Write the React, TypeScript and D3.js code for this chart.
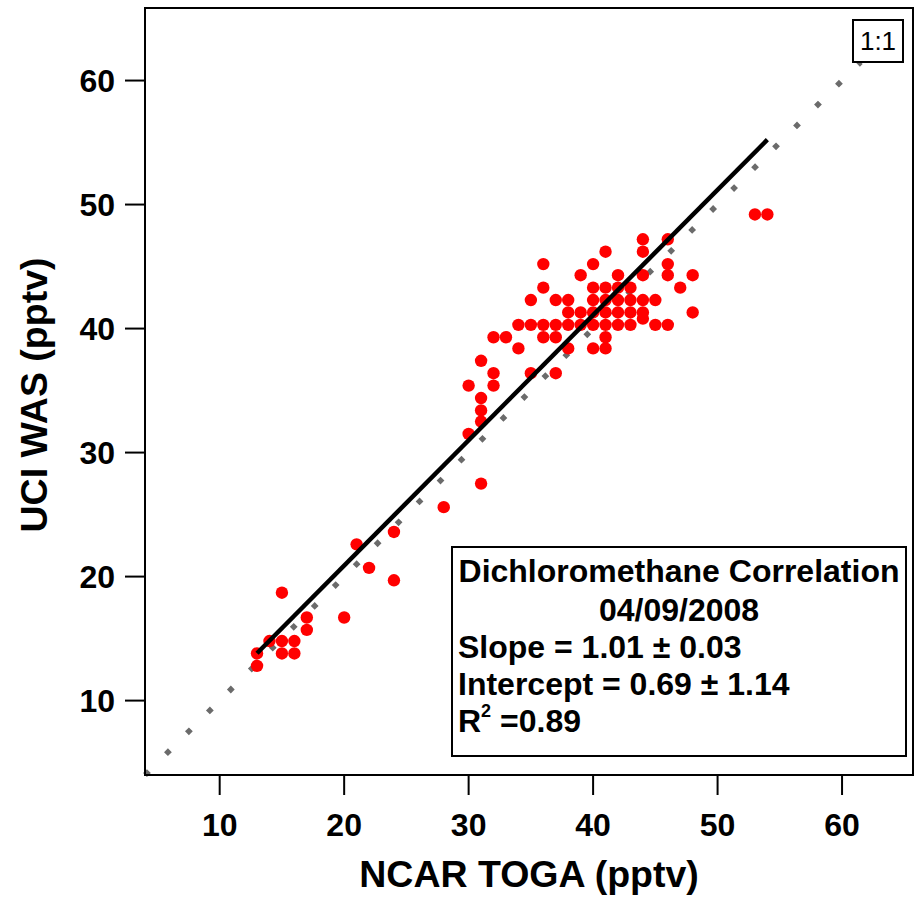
import React from "react";
import * as d3 from "d3";

const ncarToga: number[] = [
  53, 54,
  44, 46,
  41, 44,
  36, 40, 46,
  39, 42, 44, 46, 48,
  36, 40, 41, 42, 43, 47,
  35, 37, 38, 40, 41, 42, 43, 44, 45,
  38, 39, 40, 41, 42, 43, 44, 48,
  44,
  34, 35, 36, 37, 38, 39, 40, 41, 42, 43, 45, 46,
  32, 33, 36, 37, 41,
  34, 38, 40, 41,
  31,
  32, 35, 37,
  30, 32,
  31, 31, 31, 30,
  31, 28,
  24, 21, 22, 24, 15, 20, 17, 17,
  14, 15, 16,
  13, 15, 16,
  13,
];
const uciWas: number[] = [
  49.2, 49.2,
  47.2, 47.2,
  46.2, 46.2,
  45.2, 45.2, 45.2,
  44.3, 44.3, 44.3, 44.3, 44.3,
  43.3, 43.3, 43.3, 43.3, 43.3, 43.3,
  42.3, 42.3, 42.3, 42.3, 42.3, 42.3, 42.3, 42.3, 42.3,
  41.3, 41.3, 41.3, 41.3, 41.3, 41.3, 41.3, 41.3,
  40.8,
  40.3, 40.3, 40.3, 40.3, 40.3, 40.3, 40.3, 40.3, 40.3, 40.3, 40.3, 40.3,
  39.3, 39.3, 39.3, 39.3, 39.3,
  38.4, 38.4, 38.4, 38.4,
  37.4,
  36.4, 36.4, 36.4,
  35.4, 35.4,
  34.4, 33.4, 32.5, 31.5,
  27.5, 25.6,
  23.6, 22.6, 20.7, 19.7, 18.7, 16.7, 16.7, 15.7,
  14.8, 14.8, 14.8,
  13.8, 13.8, 13.8,
  12.8,
];

const xTicks = [10, 20, 30, 40, 50, 60];
const yTicks = [10, 20, 30, 40, 50, 60];
const fitSlope = 1.01;
const fitIntercept = 0.69;
const fitRange = [13, 54];
const oneToOneRange = [4, 61.5];
const legendLines = [
  "Dichloromethane Correlation",
  "04/09/2008",
  "Slope = 1.01 \u00b1 0.03",
  "Intercept = 0.69 \u00b1 1.14",
];
const r2Text = "=0.89";

const W = 915;
const H = 901;
const left = 145, right = 913, top = 8, bottom = 775;
const FONT = "'Liberation Sans', Arial, Helvetica, sans-serif";

export default function App() {
  const x = d3.scaleLinear().domain([4, 65.7]).range([left, right]);
  const y = d3.scaleLinear().domain([4, 65.85]).range([bottom, top]);
  const line = d3.line<number>().x((d) => x(d)).y((d) => y(d));
  const fitLine = d3
    .line<number>()
    .x((d) => x(d))
    .y((d) => y(fitSlope * d + fitIntercept));
  const pts = ncarToga.map((v, i) => [v, uciWas[i]]);

  return (
    <svg
      width={W}
      height={H}
      style={{ position: "absolute", left: 0, top: 0, background: "#fff" }}
      fontFamily={FONT}
    >
      <rect x={0} y={0} width={W} height={H} fill="#fff" />
      {/* 1:1 line */}
      <path
        d={line(oneToOneRange) || ""}
        stroke="#6b6b6b"
        strokeWidth={5.5}
        strokeDasharray="5.5 24.1"
        fill="none"
      />
      {/* points */}
      {pts.map((p, i) => (
        <circle key={i} cx={x(p[0])} cy={y(p[1])} r={6.2} fill="#ff0000" />
      ))}
      {/* fit line */}
      <path d={fitLine(fitRange) || ""} stroke="#000" strokeWidth={4.5} fill="none" />

      {/* frame */}
      <rect
        x={left}
        y={top}
        width={right - left}
        height={bottom - top}
        fill="none"
        stroke="#000"
        strokeWidth={2}
      />
      {/* x ticks */}
      {xTicks.map((t) => (
        <g key={"x" + t}>
          <line x1={x(t)} x2={x(t)} y1={bottom} y2={bottom + 20} stroke="#000" strokeWidth={2} />
          <text
            x={x(t)}
            y={836}
            textAnchor="middle"
            fontSize={32}
            fontWeight="bold"
          >
            {t}
          </text>
        </g>
      ))}
      {/* y ticks */}
      {yTicks.map((t) => (
        <g key={"y" + t}>
          <line x1={left - 20} x2={left} y1={y(t)} y2={y(t)} stroke="#000" strokeWidth={2} />
          <text
            x={115}
            y={y(t) + 11.5}
            textAnchor="end"
            fontSize={32}
            fontWeight="bold"
          >
            {t}
          </text>
        </g>
      ))}
      {/* axis titles */}
      <text x={529} y={887} textAnchor="middle" fontSize={37.5} fontWeight="bold">
        NCAR TOGA (pptv)
      </text>
      <text
        transform={`translate(47, 395) rotate(-90)`}
        textAnchor="middle"
        fontSize={37.5}
        fontWeight="bold"
      >
        UCI WAS (pptv)
      </text>

      {/* 1:1 label */}
      <rect x={853} y={20} width={50} height={42} fill="#fff" stroke="#000" strokeWidth={2} />
      <text x={878} y={50} textAnchor="middle" fontSize={26}>
        1:1
      </text>

      {/* legend */}
      <rect x={452} y={547} width={454} height={209} fill="#fff" stroke="#000" strokeWidth={2} />
      <text x={679} y={582} textAnchor="middle" fontSize={32} fontWeight="bold">
        {legendLines[0]}
      </text>
      <text x={679} y={621} textAnchor="middle" fontSize={32} fontWeight="bold">
        {legendLines[1]}
      </text>
      <text x={458} y={658} fontSize={32} fontWeight="bold">
        {legendLines[2]}
      </text>
      <text x={458} y={695} fontSize={32} fontWeight="bold">
        {legendLines[3]}
      </text>
      <text x={458} y={732} fontSize={32} fontWeight="bold">
        R
        <tspan fontSize={18} dy={-15}>2</tspan>
        <tspan dy={15}>{" " + r2Text}</tspan>
      </text>
    </svg>
  );
}
